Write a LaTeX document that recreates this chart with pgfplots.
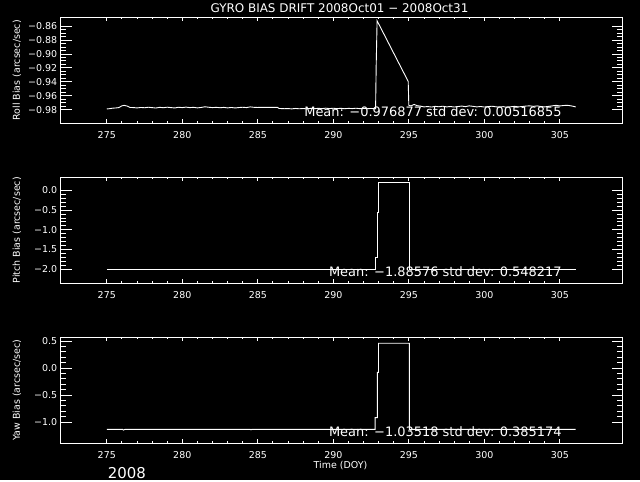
\documentclass[border=0pt]{standalone}
\usepackage{pgfplots}
\pgfplotsset{compat=1.18}
\usepackage{fontspec}
\setmainfont{DejaVu Sans}
\pgfplotstableread{
x y
275.00 -0.9790
275.20 -0.9785
275.40 -0.9778
275.60 -0.9775
275.80 -0.9770
276.00 -0.9745
276.15 -0.9738
276.35 -0.9748
276.55 -0.9768
276.80 -0.9770
277.00 -0.9775
277.25 -0.9768
277.50 -0.9772
277.75 -0.9765
278.00 -0.9770
278.25 -0.9776
278.50 -0.9766
278.75 -0.9772
279.00 -0.9764
279.25 -0.9770
279.50 -0.9775
279.75 -0.9765
280.00 -0.9770
280.25 -0.9763
280.50 -0.9770
280.75 -0.9766
281.00 -0.9774
281.25 -0.9768
281.50 -0.9758
281.75 -0.9765
282.00 -0.9770
282.25 -0.9766
282.50 -0.9772
282.75 -0.9767
283.00 -0.9774
283.25 -0.9768
283.50 -0.9775
283.75 -0.9769
284.00 -0.9765
284.25 -0.9770
284.50 -0.9760
284.75 -0.9766
285.00 -0.9768
285.20 -0.9766
285.60 -0.9766
286.00 -0.9766
286.30 -0.9766
286.40 -0.9782
286.75 -0.9786
287.00 -0.9784
287.25 -0.9788
287.50 -0.9782
287.75 -0.9787
288.00 -0.9783
288.25 -0.9788
288.50 -0.9781
288.75 -0.9786
289.00 -0.9780
289.25 -0.9785
289.50 -0.9778
289.75 -0.9784
290.00 -0.9779
290.25 -0.9785
290.50 -0.9780
290.75 -0.9786
291.00 -0.9781
291.25 -0.9784
291.50 -0.9779
291.75 -0.9785
292.00 -0.9780
292.25 -0.9786
292.50 -0.9782
292.80 -0.9787
292.84 -0.9166
292.90 -0.8525
294.96 -0.9395
295.00 -0.9737
295.15 -0.9745
295.35 -0.9725
295.55 -0.9742
295.80 -0.9750
296.00 -0.9760
296.25 -0.9755
296.50 -0.9762
296.75 -0.9752
297.00 -0.9758
297.25 -0.9750
297.50 -0.9760
297.75 -0.9754
298.00 -0.9762
298.25 -0.9755
298.50 -0.9748
298.75 -0.9756
299.00 -0.9745
299.25 -0.9752
299.50 -0.9760
299.75 -0.9754
300.00 -0.9762
300.25 -0.9756
300.50 -0.9750
300.75 -0.9758
301.00 -0.9764
301.25 -0.9756
301.50 -0.9766
301.75 -0.9758
302.00 -0.9752
302.25 -0.9760
302.50 -0.9755
302.75 -0.9748
303.00 -0.9745
303.25 -0.9752
303.50 -0.9746
303.75 -0.9755
304.00 -0.9760
304.25 -0.9752
304.50 -0.9745
304.75 -0.9738
305.00 -0.9746
305.25 -0.9740
305.50 -0.9737
305.75 -0.9745
306.05 -0.9760
}\rolldata
\pgfplotstableread{
x y
275.00 -2.01
292.77 -2.01
292.77 -1.70
292.92 -1.70
292.92 -0.56
292.99 -0.56
292.99 0.20
295.04 0.20
295.04 -2.01
306.05 -2.01
}\pitchdata
\pgfplotstableread{
x y
275.00 -1.135
276.05 -1.135
276.10 -1.150
276.20 -1.135
284.50 -1.135
284.55 -1.145
284.60 -1.135
292.77 -1.135
292.77 -0.92
292.92 -0.92
292.92 -0.08
292.99 -0.08
292.99 0.457
295.04 0.457
295.04 -1.135
306.05 -1.135
}\yawdata
\pgfplotsset{
  base/.style={
    scale only axis, width=561.8bp, height=106bp,
    anchor=south west,
    xmin=271.95, xmax=309.15,
    axis line style={white, line width=1bp},
    every tick/.style={white, line width=0.8bp},
    tick align=inside,
    ticklabel style={text=white, font=\fontsize{9.5}{11}\selectfont},
    /pgf/number format/assume math mode=true,
  },
  xpart/.style={base,
    xtick={275,280,285,290,295,300,305},
    xticklabels={275,280,285,290,295,300,305},
    minor x tick num=4,
    ytick=\empty,
    major tick length=4bp, minor tick length=2bp,
    xticklabel style={yshift=-5bp},
  },
  ypart/.style={base,
    xtick=\empty,
    major tick length=11bp, minor tick length=5.5bp,
  },
}
\begin{document}
\begin{tikzpicture}
\fill[black] (0bp,0bp) rectangle (640bp,480bp);
% ---------- Roll ----------
\begin{axis}[xpart, at={(60.7bp,356.7bp)}, ymin=-0.9995, ymax=-0.8475]
\addplot[white, line width=0.9bp] table[x=x,y=y]{\rolldata};
\node[anchor=base east, text=white, font=\fontsize{13}{15}\selectfont] at (rel axis cs:0.898,0.06) {Mean: −0.976877 std dev: 0.00516855};
\end{axis}
\begin{axis}[ypart, at={(60.7bp,356.7bp)}, ymin=-0.9995, ymax=-0.8475,
  ytick={-0.98,-0.96,-0.94,-0.92,-0.90,-0.88,-0.86},
  yticklabels={−0.98,−0.96,−0.94,−0.92,−0.90,−0.88,−0.86},
  minor y tick num=3]
\end{axis}
% ---------- Pitch ----------
\begin{axis}[xpart, at={(60.7bp,196.7bp)}, ymin=-2.354, ymax=0.329]
\addplot[white, line width=0.9bp] table[x=x,y=y]{\pitchdata};
\node[anchor=base east, text=white, font=\fontsize{13}{15}\selectfont] at (rel axis cs:0.898,0.06) {Mean: −1.88576 std dev: 0.548217};
\end{axis}
\begin{axis}[ypart, at={(60.7bp,196.7bp)}, ymin=-2.354, ymax=0.329,
  ytick={-2.0,-1.5,-1.0,-0.5,0.0},
  yticklabels={−2.0,−1.5,−1.0,−0.5,0.0},
  minor y tick num=4]
\end{axis}
% ---------- Yaw ----------
\begin{axis}[xpart, at={(60.7bp,36.7bp)}, ymin=-1.394, ymax=0.568]
\addplot[white, line width=0.9bp] table[x=x,y=y]{\yawdata};
\node[anchor=base east, text=white, font=\fontsize{13}{15}\selectfont] at (rel axis cs:0.898,0.06) {Mean: −1.03518 std dev: 0.385174};
\end{axis}
\begin{axis}[ypart, at={(60.7bp,36.7bp)}, ymin=-1.394, ymax=0.568,
  ytick={-1.0,-0.5,0.0,0.5},
  yticklabels={−1.0,−0.5,0.0,0.5},
  minor y tick num=4]
\end{axis}
% ---------- Texts ----------
\node[text=white, font=\fontsize{12}{14}\selectfont] at (339.5bp,472bp) {GYRO BIAS DRIFT 2008Oct01 − 2008Oct31};
\node[text=white, rotate=90, font=\fontsize{9.5}{11}\selectfont] at (17bp,409.7bp) {Roll Bias (arcsec/sec)};
\node[text=white, rotate=90, font=\fontsize{9.5}{11}\selectfont] at (17bp,249.7bp) {Pitch Bias (arcsec/sec)};
\node[text=white, rotate=90, font=\fontsize{9.5}{11}\selectfont] at (17bp,89.7bp) {Yaw Bias (arcsec/sec)};
\node[text=white, font=\fontsize{9.5}{11}\selectfont] at (340.5bp,14bp) {Time (DOY)};
\node[text=white, font=\fontsize{15}{17}\selectfont] at (127bp,7bp) {2008};
\end{tikzpicture}
\end{document}
